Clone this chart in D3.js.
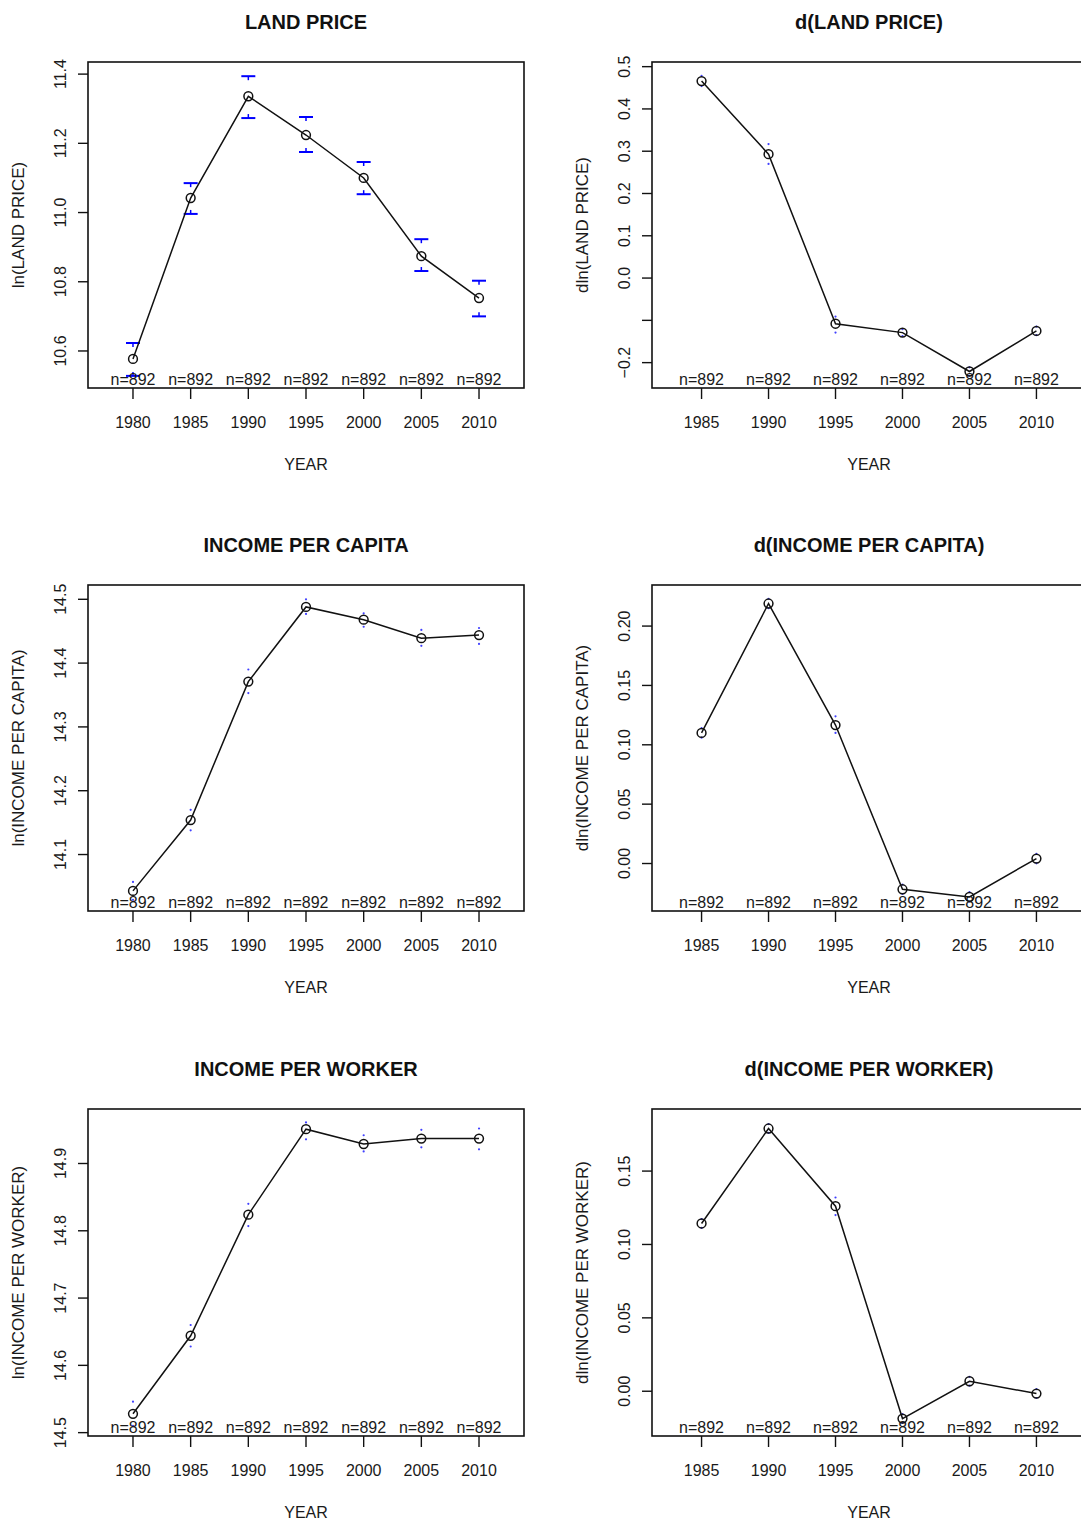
<!DOCTYPE html>
<html>
<head>
<meta charset="utf-8">
<script src="https://cdn.jsdelivr.net/npm/d3@7"></script>
<style>
  body { margin: 0; background: #fff; }
  svg { display: block; font-family: "Liberation Sans", Arial, sans-serif; }
</style>
</head>
<body>
<script>
const width = 1081;
const height = 1523;

// Years on the x axis.
const yearsLevel = ["1980", "1985", "1990", "1995", "2000", "2005", "2010"];
const yearsDiff = ["1985", "1990", "1995", "2000", "2005", "2010"];
const nLevel = ["n=892", "n=892", "n=892", "n=892", "n=892", "n=892", "n=892"];
const nDiff = ["n=892", "n=892", "n=892", "n=892", "n=892", "n=892"];

// ln(LAND PRICE): means and 95% CI.
const landMean = [10.577, 11.042, 11.336, 11.224, 11.100, 10.874, 10.753];
const landLo = [10.528, 10.996, 11.273, 11.175, 11.053, 10.831, 10.700];
const landHi = [10.623, 11.085, 11.394, 11.276, 11.146, 10.923, 10.803];

// dln(LAND PRICE)
const dLandMean = [0.466, 0.293, -0.108, -0.129, -0.221, -0.125];
const dLandLo = [0.454, 0.270, -0.129, -0.137, -0.231, -0.135];
const dLandHi = [0.478, 0.317, -0.091, -0.121, -0.211, -0.115];

// ln(INCOME PER CAPITA)
const incCapMean = [14.043, 14.154, 14.371, 14.488, 14.468, 14.439, 14.444];
const incCapLo = [14.029, 14.138, 14.353, 14.477, 14.457, 14.427, 14.430];
const incCapHi = [14.057, 14.170, 14.390, 14.500, 14.478, 14.452, 14.455];

// dln(INCOME PER CAPITA)
const dIncCapMean = [0.110, 0.219, 0.1166, -0.0217, -0.0281, 0.0042];
const dIncCapLo = [0.106, 0.215, 0.110, -0.0257, -0.0321, 0.0002];
const dIncCapHi = [0.114, 0.223, 0.124, -0.0177, -0.0241, 0.0082];

// ln(INCOME PER WORKER)
const incWrkMean = [14.528, 14.644, 14.824, 14.951, 14.929, 14.937, 14.937];
const incWrkLo = [14.510, 14.628, 14.807, 14.936, 14.918, 14.924, 14.921];
const incWrkHi = [14.546, 14.660, 14.840, 14.961, 14.942, 14.950, 14.952];

// dln(INCOME PER WORKER)
const dIncWrkMean = [0.1143, 0.179, 0.1261, -0.0186, 0.0068, -0.0016];
const dIncWrkLo = [0.1113, 0.176, 0.120, -0.0216, 0.0038, -0.0046];
const dIncWrkHi = [0.1173, 0.182, 0.132, -0.0156, 0.0098, 0.0014];

// Panel settings: titles, axis labels, y limits and ticks.
const panels = [
  { title: "LAND PRICE", ylab: "ln(LAND PRICE)", years: yearsLevel, n: nLevel,
    mean: landMean, lo: landLo, hi: landHi, col: 0, row: 0,
    yDomain: [10.493, 11.435], ticks: [10.6, 10.8, 11.0, 11.2, 11.4], fmt: ".1f", hide: [] },
  { title: "d(LAND PRICE)", ylab: "dln(LAND PRICE)", years: yearsDiff, n: nDiff,
    mean: dLandMean, lo: dLandLo, hi: dLandHi, col: 1, row: 0,
    yDomain: [-0.260, 0.511], ticks: [-0.2, -0.1, 0.0, 0.1, 0.2, 0.3, 0.4, 0.5], fmt: ".1f", hide: [-0.1] },
  { title: "INCOME PER CAPITA", ylab: "ln(INCOME PER CAPITA)", years: yearsLevel, n: nLevel,
    mean: incCapMean, lo: incCapLo, hi: incCapHi, col: 0, row: 1,
    yDomain: [14.0115, 14.5224], ticks: [14.1, 14.2, 14.3, 14.4, 14.5], fmt: ".1f", hide: [] },
  { title: "d(INCOME PER CAPITA)", ylab: "dln(INCOME PER CAPITA)", years: yearsDiff, n: nDiff,
    mean: dIncCapMean, lo: dIncCapLo, hi: dIncCapHi, col: 1, row: 1,
    yDomain: [-0.040, 0.2346], ticks: [0.00, 0.05, 0.10, 0.15, 0.20], fmt: ".2f", hide: [] },
  { title: "INCOME PER WORKER", ylab: "ln(INCOME PER WORKER)", years: yearsLevel, n: nLevel,
    mean: incWrkMean, lo: incWrkLo, hi: incWrkHi, col: 0, row: 2,
    yDomain: [14.495, 14.981], ticks: [14.5, 14.6, 14.7, 14.8, 14.9], fmt: ".1f", hide: [] },
  { title: "d(INCOME PER WORKER)", ylab: "dln(INCOME PER WORKER)", years: yearsDiff, n: nDiff,
    mean: dIncWrkMean, lo: dIncWrkLo, hi: dIncWrkHi, col: 1, row: 2,
    yDomain: [-0.0305, 0.1923], ticks: [0.00, 0.05, 0.10, 0.15], fmt: ".2f", hide: [] }
];

// Plot box positions.
const colX = [[88, 524], [652, 1086]];
const rowY = [[62, 388], [585, 911], [1109, 1436]];
const textCol = "#1a1a1a";

const svg = d3.select("body").append("svg")
  .attr("width", width)
  .attr("height", height);

panels.forEach(p => {
  const [x0, x1] = colX[p.col];
  const [y0, y1] = rowY[p.row];
  const k = p.years.length;
  const pad = 0.04 * k;

  const x = d3.scaleLinear().domain([0.5 - pad, k + 0.5 + pad]).range([x0, x1]);
  const y = d3.scaleLinear().domain(p.yDomain).range([y1, y0]);
  const fmt = d3.format(p.fmt);

  const g = svg.append("g");

  // Title.
  g.append("text")
    .attr("x", (x0 + x1) / 2)
    .attr("y", y0 - 33)
    .attr("text-anchor", "middle")
    .style("font-size", "20px")
    .style("font-weight", "bold")
    .style("fill", "#111")
    .text(p.title);

  // Plot box.
  g.append("rect")
    .attr("x", x0).attr("y", y0)
    .attr("width", x1 - x0).attr("height", y1 - y0)
    .attr("fill", "none")
    .attr("stroke", "#111")
    .attr("stroke-width", 1.6);

  // X axis ticks and labels.
  const xAxis = g.append("g").attr("transform", `translate(0,${y1})`);
  xAxis.selectAll("line")
    .data(p.years)
    .enter().append("line")
    .attr("x1", (d, i) => x(i + 1)).attr("x2", (d, i) => x(i + 1))
    .attr("y1", 0).attr("y2", 11)
    .attr("stroke", "#111").attr("stroke-width", 1.4);
  xAxis.selectAll("text")
    .data(p.years)
    .enter().append("text")
    .attr("x", (d, i) => x(i + 1))
    .attr("y", 40)
    .attr("text-anchor", "middle")
    .style("font-size", "16px")
    .style("fill", textCol)
    .text(d => d);

  g.append("text")
    .attr("x", (x0 + x1) / 2)
    .attr("y", y1 + 82)
    .attr("text-anchor", "middle")
    .style("font-size", "16px")
    .style("fill", textCol)
    .text("YEAR");

  // Y axis ticks and rotated labels.
  const yAxis = g.append("g").attr("transform", `translate(${x0},0)`);
  yAxis.selectAll("line")
    .data(p.ticks)
    .enter().append("line")
    .attr("x1", 0).attr("x2", -10)
    .attr("y1", d => y(d)).attr("y2", d => y(d))
    .attr("stroke", "#111").attr("stroke-width", 1.4);
  yAxis.selectAll("text")
    .data(p.ticks.filter(t => !p.hide.includes(t)))
    .enter().append("text")
    .attr("transform", d => `translate(-22,${y(d)}) rotate(-90)`)
    .attr("text-anchor", "middle")
    .style("font-size", "16px")
    .style("fill", textCol)
    .text(d => fmt(d));

  g.append("text")
    .attr("transform", `translate(${x0 - 64},${(y0 + y1) / 2}) rotate(-90)`)
    .attr("text-anchor", "middle")
    .style("font-size", "17px")
    .style("fill", textCol)
    .text(p.ylab);

  // Confidence intervals: caps when wide enough, tiny dots otherwise.
  const ends = [];
  p.mean.forEach((m, i) => {
    ends.push({ i, v: p.hi[i], m, dir: 1 });
    ends.push({ i, v: p.lo[i], m, dir: -1 });
  });
  const ci = g.append("g");
  ends.forEach(e => {
    const cx = x(e.i + 1);
    const cy = y(e.v);
    const dist = Math.abs(cy - y(e.m));
    if (dist > 14) {
      ci.append("line")
        .attr("x1", cx - 7).attr("x2", cx + 7)
        .attr("y1", cy).attr("y2", cy)
        .attr("stroke", "#0000ff").attr("stroke-width", 2);
      ci.append("line")
        .attr("x1", cx).attr("x2", cx)
        .attr("y1", cy).attr("y2", cy + e.dir * 4)
        .attr("stroke", "#0000ff").attr("stroke-width", 1.5);
    } else {
      ci.append("circle")
        .attr("cx", cx).attr("cy", cy)
        .attr("r", 1.1)
        .attr("fill", "#4040ff");
    }
  });

  // Sample size labels inside the box bottom.
  g.selectAll(".nlab")
    .data(p.n)
    .enter().append("text")
    .attr("class", "nlab")
    .attr("x", (d, i) => x(i + 1))
    .attr("y", y1 - 3)
    .attr("text-anchor", "middle")
    .style("font-size", "16px")
    .style("fill", textCol)
    .text(d => d);

  // Mean line and open circles.
  const line = d3.line()
    .x((d, i) => x(i + 1))
    .y(d => y(d));
  g.append("path")
    .datum(p.mean)
    .attr("d", line)
    .attr("fill", "none")
    .attr("stroke", "#111")
    .attr("stroke-width", 1.5);

  g.selectAll(".pt")
    .data(p.mean)
    .enter().append("circle")
    .attr("class", "pt")
    .attr("cx", (d, i) => x(i + 1))
    .attr("cy", d => y(d))
    .attr("r", 4.4)
    .attr("fill", "none")
    .attr("stroke", "#111")
    .attr("stroke-width", 1.5);
});
</script>
</body>
</html>
